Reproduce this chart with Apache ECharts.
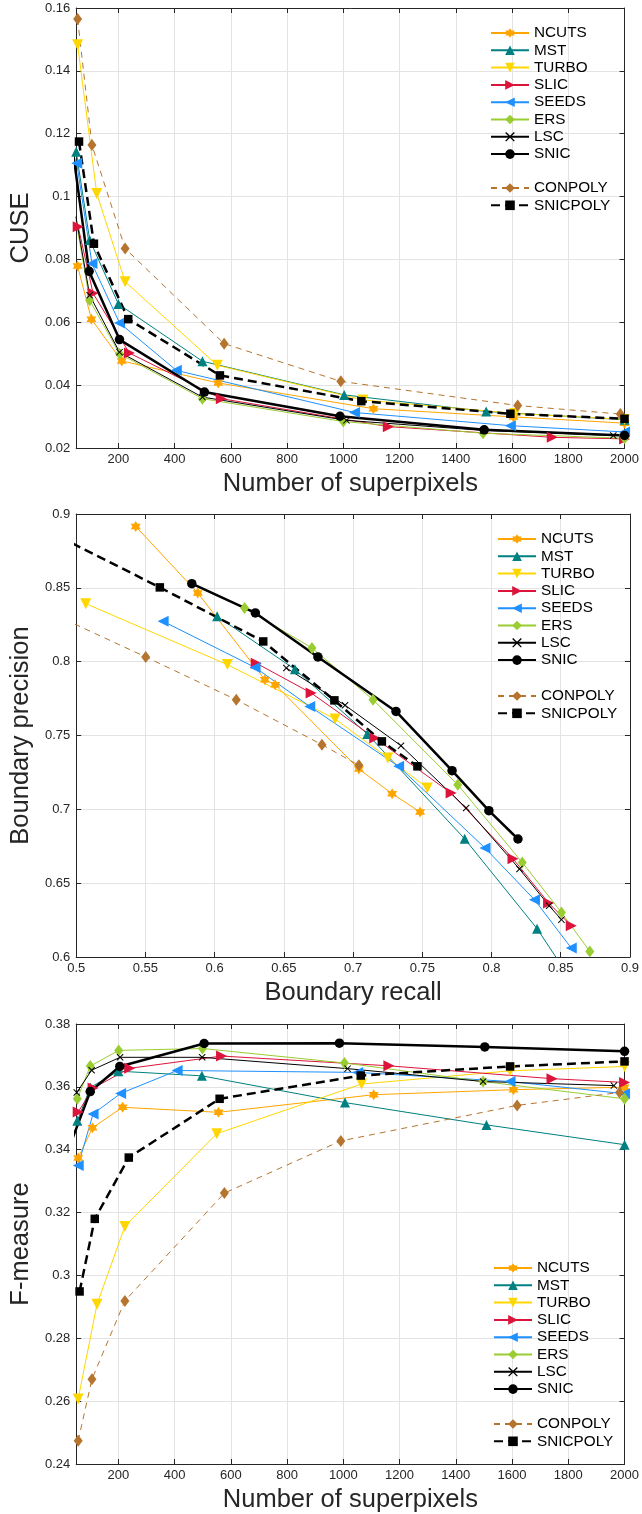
<!DOCTYPE html>
<html>
<head>
<meta charset="utf-8">
<script src="https://cdn.jsdelivr.net/npm/echarts@6/dist/echarts.min.js"></script>
<style>
html, body { margin: 0; padding: 0; background: #fff; }
#chart { width: 642px; height: 1514px; }
</style>
</head>
<body>
<div id="chart"></div>
<script>
// legend order
const methods = ['NCUTS', 'MST', 'TURBO', 'SLIC', 'SEEDS', 'ERS', 'LSC', 'SNIC', 'CONPOLY', 'SNICPOLY'];

// CUSE vs number of superpixels  [superpixels, CUSE]
const cuseNCUTS = [[55, 0.0779], [104, 0.0610], [212, 0.0477], [555, 0.0407], [1107, 0.0325], [1605, 0.0299], [2000, 0.0279]];
const cuseMST = [[50, 0.1143], [98, 0.0862], [200, 0.0658], [499, 0.0476], [1003, 0.0369], [1508, 0.0316], [2000, 0.0290]];
const cuseTURBO = [[55, 0.1483], [123, 0.1010], [224, 0.0729], [552, 0.0463], [1070, 0.0353], [1610, 0.0310], [2000, 0.0291]];
const cuseSLIC = [[57, 0.0904], [110, 0.0692], [239, 0.0502], [566, 0.0357], [1160, 0.0268], [1743, 0.0234], [2000, 0.0229]];
const cuseSEEDS = [[52, 0.1106], [106, 0.0787], [204, 0.0598], [406, 0.0447], [1040, 0.0313], [1594, 0.0271], [2000, 0.0251]];
const cuseERS = [[49, 0.0925], [98, 0.0670], [204, 0.0500], [499, 0.0357], [1000, 0.0284], [1497, 0.0247], [2000, 0.0231]];
const cuseLSC = [[49, 0.0936], [98, 0.0686], [204, 0.0505], [499, 0.0362], [1011, 0.0288], [1497, 0.0256], [1960, 0.0240]];
const cuseSNIC = [[30, 0.1200], [96, 0.0762], [204, 0.0545], [506, 0.0378], [988, 0.0301], [1501, 0.0258], [2000, 0.0240]];
const cuseCONPOLY = [[55, 0.1565], [106, 0.1164], [224, 0.0835], [576, 0.0532], [991, 0.0412], [1620, 0.0335], [1985, 0.0308]];
const cuseSNICPOLY = [[60, 0.1175], [113, 0.0850], [235, 0.0610], [561, 0.0431], [1064, 0.0349], [1594, 0.0309], [2000, 0.0293]];

// boundary precision vs boundary recall  [recall, precision]
const bprNCUTS = [[0.543, 0.8916], [0.5878, 0.8465], [0.6363, 0.7878], [0.6437, 0.7844], [0.7042, 0.7273], [0.7282, 0.7106], [0.7484, 0.6982]];
const bprMST = [[0.6018, 0.8307], [0.6580, 0.7948], [0.7103, 0.7510], [0.7806, 0.6800], [0.8329, 0.6192], [0.862, 0.578]];
const bprTURBO = [[0.5069, 0.8393], [0.6092, 0.7980], [0.6870, 0.7612], [0.7251, 0.7348], [0.7536, 0.7145]];
const bprSLIC = [[0.6300, 0.7990], [0.6697, 0.7788], [0.7156, 0.7483], [0.7708, 0.7110], [0.8155, 0.6666], [0.8412, 0.6366], [0.8576, 0.6212]];
const bprSEEDS = [[0.5628, 0.8273], [0.6292, 0.7961], [0.6687, 0.7697], [0.7329, 0.7291], [0.7953, 0.6738], [0.8310, 0.6388], [0.8576, 0.6061]];
const bprERS = [[0.6216, 0.8363], [0.6703, 0.8093], [0.7144, 0.7742], [0.7756, 0.7167], [0.8222, 0.6640], [0.8505, 0.6302], [0.8710, 0.6038]];
const bprLSC = [[0.6518, 0.7957], [0.6942, 0.7705], [0.7346, 0.7431], [0.7817, 0.7009], [0.8202, 0.6596], [0.8416, 0.6347], [0.8505, 0.6253]];
const bprSNIC = [[0.5835, 0.8528], [0.6294, 0.8330], [0.6746, 0.8032], [0.7310, 0.7663], [0.7715, 0.7262], [0.7981, 0.6991], [0.8191, 0.6799]];
const bprCONPOLY = [[0.47, 0.838], [0.5502, 0.8032], [0.6156, 0.7742], [0.6775, 0.7438], [0.7042, 0.7298]];
const bprSNICPOLY = [[0.47, 0.893], [0.5604, 0.8503], [0.6351, 0.8137], [0.6865, 0.7738], [0.7208, 0.7460], [0.7465, 0.7291]];

// F-measure vs number of superpixels  [superpixels, F]
const fmNCUTS = [[57, 0.3374], [108, 0.3470], [215, 0.3535], [556, 0.3519], [1108, 0.3575], [1605, 0.3591], [2000, 0.3599]];
const fmMST = [[54, 0.3492], [100, 0.3598], [200, 0.3650], [497, 0.3635], [1006, 0.3550], [1509, 0.3479], [2000, 0.3416]];
const fmTURBO = [[57, 0.2607], [124, 0.2908], [223, 0.3156], [550, 0.3451], [1065, 0.3609], [1593, 0.3651], [2000, 0.3665]];
const fmSLIC = [[57, 0.3520], [110, 0.3596], [240, 0.3659], [567, 0.3698], [1162, 0.3667], [1742, 0.3626], [2000, 0.3614]];
const fmSEEDS = [[57, 0.3350], [110, 0.3514], [208, 0.3579], [409, 0.3652], [1051, 0.3646], [1593, 0.3617], [2000, 0.3578]];
const fmERS = [[54, 0.3562], [100, 0.3666], [201, 0.3716], [499, 0.3722], [1004, 0.3676], [1497, 0.3617], [2000, 0.3562]];
const fmLSC = [[52, 0.3582], [105, 0.3653], [206, 0.3694], [498, 0.3694], [1015, 0.3658], [1497, 0.3617], [1962, 0.3604]];
const fmSNIC = [[30, 0.3420], [100, 0.3585], [205, 0.3665], [505, 0.3738], [986, 0.3739], [1503, 0.3727], [2000, 0.3713]];
const fmCONPOLY = [[57, 0.2474], [106, 0.2670], [223, 0.2919], [577, 0.3262], [991, 0.3428], [1618, 0.3541], [1982, 0.3582]];
const fmSNICPOLY = [[62, 0.2949], [116, 0.3180], [237, 0.3375], [560, 0.3562], [1062, 0.3636], [1593, 0.3665], [2000, 0.3681]];

// axis ranges [min, max, step]
const spRange = [50, 2000, 200];
const cuseRange = [0.02, 0.16, 0.02];
const recallRange = [0.5, 0.9, 0.05];
const precisionRange = [0.6, 0.9, 0.05];
const fmRange = [0.24, 0.38, 0.02];

const cuseData = [cuseNCUTS, cuseMST, cuseTURBO, cuseSLIC, cuseSEEDS, cuseERS, cuseLSC, cuseSNIC, cuseCONPOLY, cuseSNICPOLY];
const bprData = [bprNCUTS, bprMST, bprTURBO, bprSLIC, bprSEEDS, bprERS, bprLSC, bprSNIC, bprCONPOLY, bprSNICPOLY];
const fmData = [fmNCUTS, fmMST, fmTURBO, fmSLIC, fmSEEDS, fmERS, fmLSC, fmSNIC, fmCONPOLY, fmSNICPOLY];

// marker shapes
const hexagram = 'path://M0,-10 L2.89,-5 L8.66,-5 L5.77,0 L8.66,5 L2.89,5 L0,10 L-2.89,5 L-8.66,5 L-5.77,0 L-8.66,-5 L-2.89,-5 Z';
const cross = 'path://M-5,-4 L-4,-5 L0,-1 L4,-5 L5,-4 L1,0 L5,4 L4,5 L0,1 L-4,5 L-5,4 L-1,0 Z';

const styles = {
    NCUTS: { color: '#FFA500', symbol: hexagram, size: [10, 11], width: 1 },
    MST: { color: '#008080', symbol: 'triangle', size: 10, width: 1 },
    TURBO: { color: '#FFD700', symbol: 'triangle', size: 11, rotate: 180, width: 1 },
    SLIC: { color: '#DC143C', symbol: 'triangle', size: 11, rotate: -90, width: 1 },
    SEEDS: { color: '#1E90FF', symbol: 'triangle', size: 11, rotate: 90, width: 1 },
    ERS: { color: '#9ACD32', symbol: 'diamond', size: [9, 12], width: 1 },
    LSC: { color: '#000000', symbol: cross, size: 7, width: 1 },
    SNIC: { color: '#000000', symbol: 'circle', size: 9.5, width: 2.5 },
    CONPOLY: { color: '#B5752F', symbol: 'diamond', size: [9, 12], width: 1, dash: [6, 5] },
    SNICPOLY: { color: '#000000', symbol: 'rect', size: 8.5, width: 2.5, dash: [9, 5] },
};

const FONT = 'Liberation Sans, Arial, Helvetica, sans-serif';
const AXIS_COLOR = '#262626';

// plot areas
const grids = [
    { left: 71, top: 8, width: 556, height: 440 },
    { left: 75, top: 514, width: 560, height: 443 },
    { left: 74, top: 1024, width: 556, height: 440 },
];

function makeAxis(dim, range, name, opts) {
    const isTop = opts.secondary;
    const ax = {
        type: 'value',
        gridIndex: opts.grid,
        min: range[0],
        max: range[1],
        position: dim === 'x' ? (isTop ? 'top' : 'bottom') : (isTop ? 'right' : 'left'),
        axisLine: { show: true, onZero: false, lineStyle: { color: AXIS_COLOR, width: 1 } },
        axisTick: { show: true, inside: true, length: 5, lineStyle: { color: AXIS_COLOR } },
        axisLabel: {
            show: !isTop, color: AXIS_COLOR, fontSize: 13, fontFamily: FONT,
            margin: dim === 'x' ? 5 : 6, showMinLabel: opts.hideMin ? false : null,
            formatter: function (v) { return String(+v.toFixed(4)); },
        },
        splitLine: { show: !isTop, lineStyle: { color: '#e3e3e3', width: 1 } },
    };
    if (Math.abs(Math.round(range[0] / range[2]) * range[2] - range[0]) < 1e-9) {
        ax.interval = range[2];
    } else {
        // min is not on the tick grid: let ticks fall on multiples of the step
        ax.minInterval = range[2];
        ax.maxInterval = range[2];
        ax.splitNumber = 10;
    }
    if (!isTop && name) {
        ax.name = name;
        ax.nameLocation = 'middle';
        ax.nameGap = dim === 'x' ? 23 : 32;
        ax.nameTextStyle = { fontSize: 25.5, color: AXIS_COLOR, fontFamily: FONT };
    }
    return ax;
}

const xAxis = [
    makeAxis('x', spRange, 'Number of superpixels', { grid: 0, hideMin: true }),
    makeAxis('x', recallRange, 'Boundary recall', { grid: 1 }),
    makeAxis('x', spRange, 'Number of superpixels', { grid: 2, hideMin: true }),
    makeAxis('x', spRange, null, { grid: 0, secondary: true }),
    makeAxis('x', recallRange, null, { grid: 1, secondary: true }),
    makeAxis('x', spRange, null, { grid: 2, secondary: true }),
];
const yAxis = [
    makeAxis('y', cuseRange, 'CUSE', { grid: 0 }),
    makeAxis('y', precisionRange, 'Boundary precision', { grid: 1 }),
    makeAxis('y', fmRange, 'F-measure', { grid: 2 }),
    makeAxis('y', cuseRange, null, { grid: 0, secondary: true }),
    makeAxis('y', precisionRange, null, { grid: 1, secondary: true }),
    makeAxis('y', fmRange, null, { grid: 2, secondary: true }),
];

function makeSeries(name, data, idx) {
    const s = styles[name];
    return {
        name: name,
        type: 'line',
        xAxisIndex: idx,
        yAxisIndex: idx,
        data: data,
        symbol: s.symbol,
        symbolSize: s.size,
        symbolRotate: s.rotate || 0,
        showAllSymbol: true,
        clip: true,
        itemStyle: { color: s.color },
        lineStyle: { color: s.color, width: s.width, type: s.dash || 'solid' },
        emphasis: { disabled: true },
    };
}

const series = [];
[cuseData, bprData, fmData].forEach(function (set, idx) {
    methods.forEach(function (m, i) {
        series.push(makeSeries(m, set[i], idx));
    });
});

function makeLegend(names, left, top) {
    return {
        data: names,
        orient: 'vertical',
        left: left,
        top: top,
        padding: 0,
        itemWidth: 38,
        itemHeight: 12,
        itemGap: 2.3,
        selectedMode: false,
        textStyle: { fontSize: 15.3, color: '#000', fontFamily: FONT },
    };
}

const legend = [
    makeLegend(methods.slice(0, 8), 490, 25.5),
    makeLegend(methods.slice(8), 490, 180.5),
    makeLegend(methods.slice(0, 8), 497, 531.5),
    makeLegend(methods.slice(8), 497, 688.5),
    makeLegend(methods.slice(0, 8), 493, 1260.5),
    makeLegend(methods.slice(8), 493, 1416.5),
];

const chart = echarts.init(document.getElementById('chart'));
chart.setOption({
    animation: false,
    backgroundColor: '#ffffff',
    grid: grids,
    xAxis: xAxis,
    yAxis: yAxis,
    legend: legend,
    series: series,
});
</script>
</body>
</html>
